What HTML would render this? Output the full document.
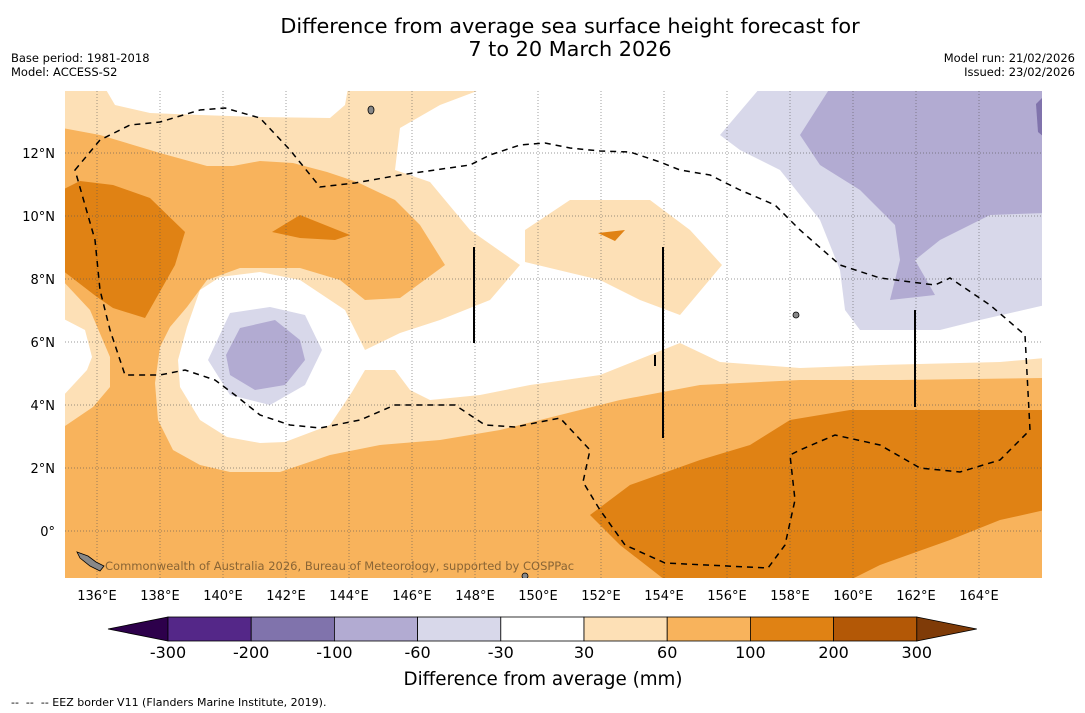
<!DOCTYPE html>
<html><head><meta charset="utf-8"><style>
body{margin:0;background:#fff;font-family:"DejaVu Sans","Liberation Sans",sans-serif;}
#wrap{position:relative;width:1085px;height:713px;overflow:hidden;background:#fff}
.t{position:absolute;white-space:nowrap;color:#000}
</style></head><body>
<div id="wrap">
<div class="t" style="left:0;width:1140px;text-align:center;top:15px;font-size:20.8px;line-height:23px">Difference from average sea surface height forecast for<br>7 to 20 March 2026</div>
<div class="t" style="left:11px;top:51px;font-size:11.5px;line-height:14px">Base period: 1981-2018<br>Model: ACCESS-S2</div>
<div class="t" style="right:10px;top:51px;font-size:11.5px;line-height:14px;text-align:right">Model run: 21/02/2026<br>Issued: 23/02/2026</div>
<svg id="map" width="1085" height="713" style="position:absolute;left:0;top:0" font-family="DejaVu Sans, sans-serif">
<defs><clipPath id="clip"><rect x="65" y="91" width="977" height="487"/></clipPath></defs>
<g clip-path="url(#clip)">
<rect x="65" y="91" width="977" height="487" fill="#fde0b6"/>
<path fill="#fff" d="M105,88 L115,105 L150,113 L200,115 L260,117 L330,118 L345,105 L348,88Z"/>
<path fill="#fff" d="M485,88 L440,105 L400,128 L395,170 L430,182 L470,230 L520,265 L490,300 L440,320 L400,333 L365,350 L345,310 L300,280 L260,272 L220,277 L200,290 L187,327 L178,360 L180,387 L200,420 L227,437 L260,443 L285,442 L330,425 L352,392 L365,370 L395,370 L410,390 L430,400 L480,395 L530,385 L600,375 L680,343 L720,362 L800,368 L880,365 L1000,362 L1045,358 L1045,88Z"/>
<path fill="#fde0b6" d="M525,230 L570,200 L650,200 L690,230 L722,265 L680,315 L640,300 L600,280 L525,262Z"/>
<path fill="#f8b35c" d="M62,128 L100,135 L160,153 L207,166 L233,166 L260,161 L293,163 L327,172 L357,182 L395,200 L420,225 L445,265 L400,298 L365,300 L340,280 L300,268 L240,268 L207,280 L187,307 L170,327 L160,347 L155,383 L158,420 L173,450 L200,465 L230,472 L280,472 L330,455 L380,445 L440,440 L500,430 L560,415 L620,400 L700,385 L800,380 L900,380 L1045,378 L1045,580 L62,580 L62,428 L93,407 L110,387 L110,357 L90,310 L62,280Z"/>
<path fill="#fff" d="M62,318 L85,330 L92,357 L87,370 L62,397Z"/>
<path fill="#e08214" d="M62,190 L80,181 L113,185 L150,198 L185,232 L175,265 L145,318 L113,308 L97,297 L62,270Z"/>
<path fill="#e08214" d="M272,232 L300,215 L350,235 L335,240 L300,238Z"/>
<path fill="#e08214" d="M598,233 L625,230 L615,241Z"/>
<path fill="#e08214" d="M590,515 L630,485 L700,460 L750,445 L790,420 L850,410 L1045,410 L1045,510 L1000,520 L950,540 L880,565 L850,580 L665,580 L620,545Z"/>
<path fill="#d8d8ea" d="M720,135 L760,88 L1045,88 L1045,305 L980,320 L940,330 L860,330 L845,310 L840,270 L820,220 L780,170 L740,150Z"/>
<path fill="#b2abd2" d="M800,135 L830,88 L1045,88 L1045,213 L990,215 L940,240 L915,260 L935,295 L890,300 L900,260 L895,225 L860,190 L820,165Z"/>
<path fill="#8073ac" d="M1036,104 L1045,95 L1045,138 L1038,132Z"/>
<path fill="#d8d8ea" d="M230,313 L270,307 L305,315 L322,350 L305,385 L270,405 L230,395 L208,360Z"/>
<path fill="#b2abd2" d="M240,328 L275,320 L300,340 L305,360 L285,385 L255,390 L230,375 L226,355Z"/>
<g id="grid" stroke="#555" stroke-width="0.7" stroke-dasharray="1,2" opacity="0.8"></g>
<path fill="none" stroke="#000" stroke-width="1.5" stroke-dasharray="6,5" d="M75,170 L100,140 L130,125 L160,122 L200,110 L225,108 L260,118 L290,150 L320,187 L355,183 L400,175 L470,165 L490,155 L520,145 L545,143 L570,148 L600,151 L630,152 L660,162 L680,170 L710,175 L740,190 L775,205 L800,230 L840,265 L880,278 L935,285 L950,278 L990,305 L1025,335 L1030,430 L1000,460 L960,472 L920,468 L880,445 L835,435 L800,450 L790,455 L795,500 L785,545 L768,568 L665,563 L625,545 L600,510 L583,482 L590,450 L560,418 L515,427 L485,425 L455,405 L420,405 L395,405 L360,420 L320,428 L290,425 L260,415 L235,395 L215,380 L185,370 L160,375 L125,375 L110,330 L100,290 L95,240 L85,205 Z"/>
<g stroke="#000" stroke-width="2">
<line x1="474" y1="247" x2="474" y2="343"/><line x1="663" y1="247" x2="663" y2="438"/><line x1="915" y1="310" x2="915" y2="407"/><line x1="655" y1="355" x2="655" y2="366"/>
</g>
<g fill="#888" stroke="#000" stroke-width="0.8">
<path d="M77,552 L88,556 L96,562 L104,566 L100,571 L90,566 L80,558Z"/><ellipse cx="371" cy="110" rx="3" ry="4"/><ellipse cx="796" cy="315" rx="3" ry="3"/><ellipse cx="525" cy="576" rx="3" ry="3"/>
</g>
<text x="105" y="570" font-size="11.5" fill="#8a6535">Commonwealth of Australia 2026, Bureau of Meteorology, supported by COSPPac</text>
</g>
<g id="xt"></g>
<g id="yt"></g>
<g id="cb"></g>
<text x="543" y="685" font-size="18.3" text-anchor="middle">Difference from average (mm)</text>
<text x="11" y="706" font-size="11" style="white-space:pre">--  --  -- EEZ border V11 (Flanders Marine Institute, 2019).</text>
</svg>
</div>
<script>
const lonTicks=[136,138,140,142,144,146,148,150,152,154,156,158,160,162,164];
const latTicks=[0,2,4,6,8,10,12];
const cbLevels=[-300,-200,-100,-60,-30,30,60,100,200,300];
const cbColors=["#542788","#8073ac","#b2abd2","#d8d8ea","#ffffff","#fde0b6","#f8b35c","#e08214","#b35806"];
const cbUnder="#2d004b", cbOver="#7f3b08";
const NS="http://www.w3.org/2000/svg";
const X=lon=>65.5+(lon-135)*31.5;
const Y=lat=>531-lat*31.5;
function mk(tag,attrs,parent){const e=document.createElementNS(NS,tag);for(const k in attrs)e.setAttribute(k,attrs[k]);parent.appendChild(e);return e;}
const grid=document.getElementById('grid'),xt=document.getElementById('xt'),yt=document.getElementById('yt'),cb=document.getElementById('cb');
lonTicks.forEach(l=>{
 const g=mk('line',{x1:X(l),x2:X(l),y1:91,y2:578},grid);
 
 
 const t=mk('text',{x:X(l),y:600,'font-size':13,'text-anchor':'middle'},xt);
 t.textContent=l+'°E';
 
 
});
latTicks.forEach(l=>{
 const g=mk('line',{x1:65,x2:1042,y1:Y(l),y2:Y(l)},grid);
 
 
 const t=mk('text',{x:55,y:Y(l)+5,'font-size':13,'text-anchor':'end'},yt);
 t.textContent=l===0?'0°':l+'°N';
 
 
});
const cx0=168,cw=83.2,cy=617,ch=24;
const u=mk('polygon',{points:`108,${cy+ch/2} ${cx0},${cy} ${cx0},${cy+ch}`,fill:cbUnder,stroke:'#000','stroke-width':0.8},cb);


cbColors.forEach((c,i)=>{
 const r=mk('rect',{x:cx0+i*cw,y:cy,width:cw,height:ch,fill:c,stroke:'#000','stroke-width':0.8},cb);
 
 
});
const xe=cx0+cbColors.length*cw;
const o=mk('polygon',{points:`${xe},${cy} ${xe+60},${cy+ch/2} ${xe},${cy+ch}`,fill:cbOver,stroke:'#000','stroke-width':0.8},cb);


cbLevels.forEach((v,i)=>{
 const t=mk('text',{x:cx0+i*cw,y:658,'font-size':16,'text-anchor':'middle'},cb);
 t.textContent=v;
 
 
});
</script>
</body></html>
